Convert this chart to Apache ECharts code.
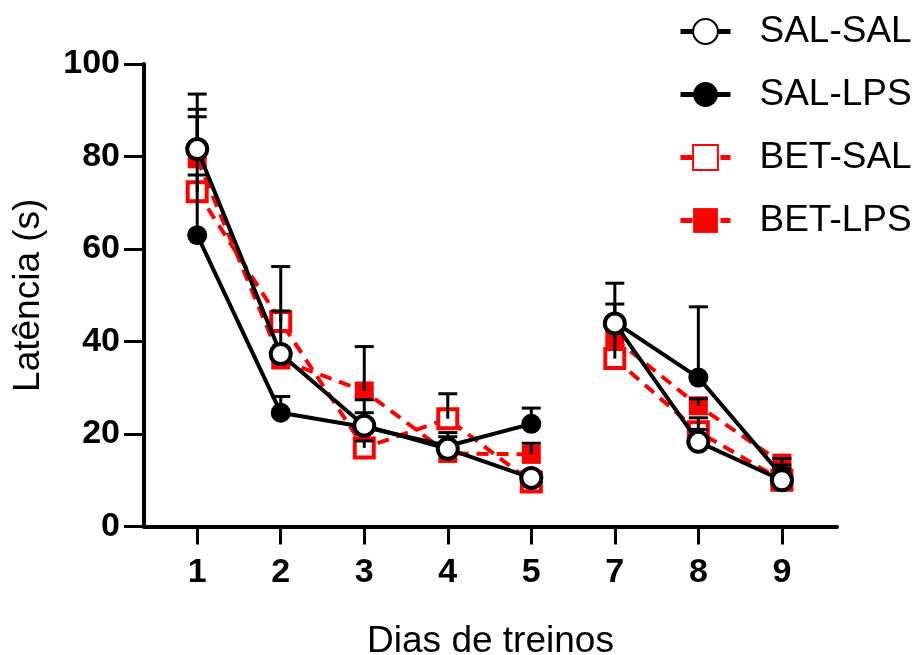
<!DOCTYPE html>
<html>
<head>
<meta charset="utf-8">
<script src="https://cdn.jsdelivr.net/npm/echarts@6/dist/echarts.min.js"></script>
<style>
  html, body { margin: 0; padding: 0; background: #fff; }
  #chart { width: 914px; height: 655px; }
</style>
</head>
<body>
<div id="chart"></div>
<script>
// Training days shown on the x axis (day 6 is not tested)
const days = ['1', '2', '3', '4', '5', '7', '8', '9'];
// Training phase of each day; the line is broken between phases
const phases = [1, 1, 1, 1, 1, 2, 2, 2];

// Mean latency (s) per group
const salSal = [81.6, 37.3, 21.8, 16.8, 10.5, 43.9, 18.3, 10.0];
const salLps = [63.0, 24.6, 21.5, 17.4, 22.2, 44.2, 32.2, 11.0];
const betSal = [72.4, 44.3, 17.0, 23.3, 9.6, 36.3, 20.5, 10.0];
const betLps = [79.5, 36.0, 29.3, 15.8, 15.6, 40.6, 26.1, 13.7];

// Standard error (upper bars only)
const salSalErr = [8.6, 18.9, 2.8, 2.6, 1.0, 8.7, 2.7, 3.3];
const salLpsErr = [30.5, 3.5, 5.9, 2.9, 3.4, 3.9, 15.3, 1.5];
const betSalErr = [3.6, 2.3, 1.5, 5.4, 1.0, 7.0, 3.0, 1.0];
const betLpsErr = [9.1, 1.5, 9.6, 1.5, 2.4, 2.0, 1.5, 1.0];

const yTicks = [0, 20, 40, 60, 80, 100];

// Build [x, y] points, inserting an empty point where the phase changes
function toLine(values) {
  const out = [];
  values.forEach((v, i) => {
    if (i > 0 && phases[i] !== phases[i - 1]) out.push([i - 0.5, null]);
    out.push([i, v]);
  });
  return out;
}

function toBars(values, errs) {
  return values.map((v, i) => [i, v, v + errs[i]]);
}

const FONT = '"Liberation Sans", Arial, sans-serif';
const RED = '#ff0000';

const chart = echarts.init(document.getElementById('chart'), null, { renderer: 'canvas' });

const errorBarSeries = {
  type: 'custom',
  name: 'sem',
  z: 3,
  silent: true,
  renderItem: function (params, api) {
    const x = api.value(0);
    const p0 = api.coord([x, api.value(1)]);
    const p1 = api.coord([x, api.value(2)]);
    const hw = 9.5;
    return {
      type: 'group',
      children: [
        { type: 'line', shape: { x1: p0[0], y1: p0[1], x2: p1[0], y2: p1[1] },
          style: { stroke: '#000', lineWidth: 3 } },
        { type: 'line', shape: { x1: p1[0] - hw, y1: p1[1], x2: p1[0] + hw, y2: p1[1] },
          style: { stroke: '#000', lineWidth: 3 } }
      ]
    };
  },
  data: [].concat(
    toBars(betSal, betSalErr),
    toBars(betLps, betLpsErr),
    toBars(salSal, salSalErr),
    toBars(salLps, salLpsErr)
  )
};

chart.setOption({
  animation: false,
  backgroundColor: '#fff',
  textStyle: { fontFamily: FONT },
  grid: { left: 144, top: 64, right: 77, bottom: 128.5, containLabel: false, outerBoundsMode: 'none' },
  legend: {
    orient: 'vertical',
    left: 678,
    top: 12,
    padding: 0,
    itemWidth: 50,
    itemHeight: 31,
    itemGap: 24,
    selectedMode: false,
    lineStyle: { width: 5 },
    data: ['SAL-SAL', 'SAL-LPS', 'BET-SAL', 'BET-LPS'],
    textStyle: { fontSize: 37, fontFamily: FONT, color: '#000', padding: [0, 0, 0, 24], lineHeight: 39 }
  },
  xAxis: {
    type: 'value',
    min: -0.637,
    max: 7.66,
    name: 'Dias de treinos',
    nameLocation: 'middle',
    nameGap: 97,
    nameTextStyle: { fontSize: 37, fontFamily: FONT, color: '#000' },
    splitLine: { show: false },
    axisLine: { show: true, onZero: false, lineStyle: { color: '#000', width: 4 } },
    axisTick: { show: true, length: 18, lineStyle: { color: '#000', width: 3 },
      customValues: days.map((d, i) => i) },
    axisLabel: { show: true, margin: 29, fontSize: 34, fontWeight: 'bold', color: '#000', fontFamily: FONT,
      customValues: days.map((d, i) => i),
      formatter: v => days[Math.round(v)] }
  },
  yAxis: {
    type: 'value',
    min: 0,
    max: 100,
    interval: 20,
    name: 'Latência (s)',
    nameLocation: 'middle',
    nameRotate: 90,
    nameGap: 97,
    nameTextStyle: { fontSize: 37, fontFamily: FONT, color: '#000' },
    splitLine: { show: false },
    axisLine: { show: true, onZero: false, lineStyle: { color: '#000', width: 4 } },
    axisTick: { show: true, length: 20, lineStyle: { color: '#000', width: 3 } },
    axisLabel: { margin: 24, fontSize: 34, fontWeight: 'bold', color: '#000', fontFamily: FONT,
      customValues: yTicks }
  },
  series: [
    {
      name: 'SAL-SAL', type: 'line', z: 5, data: toLine(salSal),
      connectNulls: false,
      symbol: 'circle', symbolSize: 20,
      lineStyle: { color: '#000', width: 4 },
      itemStyle: { color: '#fff', borderColor: '#000', borderWidth: 4 },
      emphasis: { disabled: true }
    },
    {
      name: 'SAL-LPS', type: 'line', z: 4, data: toLine(salLps),
      connectNulls: false,
      symbol: 'circle', symbolSize: 20,
      lineStyle: { color: '#000', width: 4 },
      itemStyle: { color: '#000', borderColor: '#000', borderWidth: 0 },
      emphasis: { disabled: true }
    },
    {
      name: 'BET-SAL', type: 'line', z: 2, data: toLine(betSal),
      connectNulls: false,
      symbol: 'rect', symbolSize: 19,
      lineStyle: { color: RED, width: 4, type: [12, 8] },
      itemStyle: { color: '#fff', borderColor: RED, borderWidth: 4 },
      emphasis: { disabled: true }
    },
    {
      name: 'BET-LPS', type: 'line', z: 2, data: toLine(betLps),
      connectNulls: false,
      symbol: 'rect', symbolSize: 19,
      lineStyle: { color: RED, width: 4, type: [12, 8] },
      itemStyle: { color: RED, borderColor: RED, borderWidth: 0 },
      emphasis: { disabled: true }
    },
    errorBarSeries
  ]
});
</script>
</body>
</html>
